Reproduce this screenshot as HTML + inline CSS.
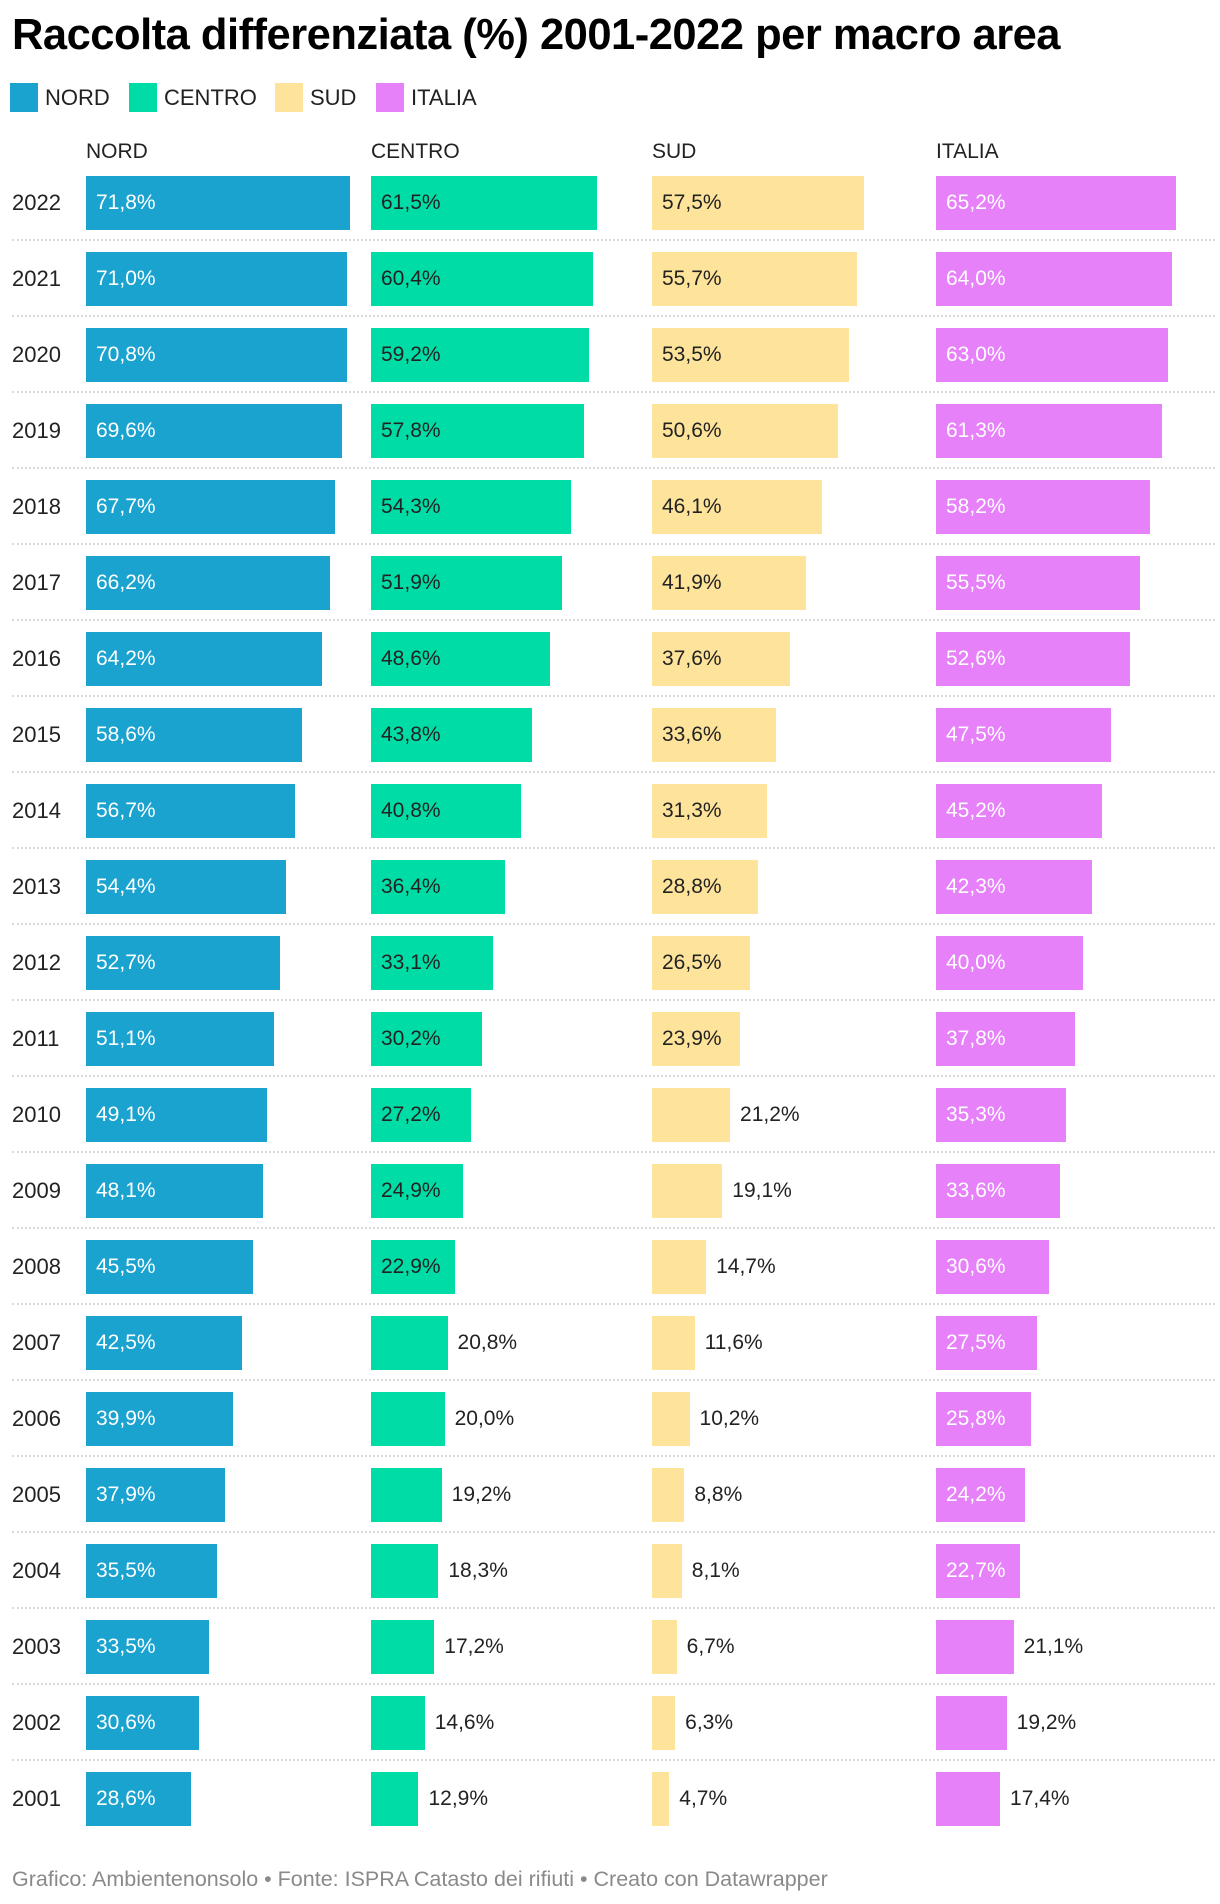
<!DOCTYPE html>
<html><head><meta charset="utf-8">
<style>
body{margin:0;background:#fff;font-family:"Liberation Sans",sans-serif;}
#root{position:relative;width:1220px;height:1904px;overflow:hidden;}
.title{position:absolute;left:12px;top:11px;font-size:43.5px;font-weight:bold;color:#000;letter-spacing:-0.5px;white-space:nowrap;}
.leg{position:absolute;top:83px;height:29px;font-size:22px;color:#222;line-height:29px;}
.leg i{display:inline-block;width:28px;height:29px;vertical-align:top;margin-right:7px;}
.hdr{position:absolute;top:140px;font-size:21px;color:#222;}
.yr{position:absolute;font-size:22px;color:#222;left:12px;}
.bar{position:absolute;height:54px;}
.val{position:absolute;font-size:21px;line-height:54px;white-space:nowrap;}
.sep{position:absolute;left:12px;width:1203px;border-top:2px dotted #d8d8d8;height:0;}
.foot{position:absolute;left:12px;top:1867px;font-size:21.5px;color:#8a8a8a;white-space:nowrap;}
</style></head><body>
<div id="root">
<div class="title">Raccolta differenziata (%) 2001-2022 per macro area</div>
<div class="leg" style="left:10px"><i style="background:#1ba3cf"></i>NORD</div>
<div class="leg" style="left:129px"><i style="background:#00dca6"></i>CENTRO</div>
<div class="leg" style="left:275px"><i style="background:#fee49b"></i>SUD</div>
<div class="leg" style="left:376px"><i style="background:#e781f9"></i>ITALIA</div>
<div class="hdr" style="left:86px">NORD</div>
<div class="hdr" style="left:371px">CENTRO</div>
<div class="hdr" style="left:652px">SUD</div>
<div class="hdr" style="left:936px">ITALIA</div>
<div class="foot">Grafico: Ambientenonsolo • Fonte: ISPRA Catasto dei rifiuti • Creato con Datawrapper</div>
</div>
<script>
const years=[2022,2021,2020,2019,2018,2017,2016,2015,2014,2013,2012,2011,2010,2009,2008,2007,2006,2005,2004,2003,2002,2001];
const nord=[71.8,71.0,70.8,69.6,67.7,66.2,64.2,58.6,56.7,54.4,52.7,51.1,49.1,48.1,45.5,42.5,39.9,37.9,35.5,33.5,30.6,28.6];
const centro=[61.5,60.4,59.2,57.8,54.3,51.9,48.6,43.8,40.8,36.4,33.1,30.2,27.2,24.9,22.9,20.8,20.0,19.2,18.3,17.2,14.6,12.9];
const sud=[57.5,55.7,53.5,50.6,46.1,41.9,37.6,33.6,31.3,28.8,26.5,23.9,21.2,19.1,14.7,11.6,10.2,8.8,8.1,6.7,6.3,4.7];
const italia=[65.2,64.0,63.0,61.3,58.2,55.5,52.6,47.5,45.2,42.3,40.0,37.8,35.3,33.6,30.6,27.5,25.8,24.2,22.7,21.1,19.2,17.4];
const root=document.getElementById('root');
const xs=v=>v*3.68;
const rowY=i=>176+i*76;
const cols=[
 {name:'nord',data:nord,x0:86,color:'#1ba3cf',txt:'#fff'},
 {name:'centro',data:centro,x0:371,color:'#00dca6',txt:'#222'},
 {name:'sud',data:sud,x0:652,color:'#fee49b',txt:'#222'},
 {name:'italia',data:italia,x0:936,color:'#e781f9',txt:'#fff'}];
years.forEach((yr,i)=>{
 const y=rowY(i);
 const yl=document.createElement('div');
 yl.className='yr';yl.style.top=(y+14)+'px';yl.textContent=yr;
 
 
 root.appendChild(yl);
 cols.forEach(c=>{
  const v=c.data[i];const w=xs(v);
  const b=document.createElement('div');
  b.className='bar';b.style.left=c.x0+'px';b.style.top=y+'px';b.style.width=w+'px';b.style.background=c.color;
  
  
  root.appendChild(b);
  const t=document.createElement('div');
  t.className='val';t.style.top=y+'px';
  t.textContent=v.toFixed(1).replace('.',',')+'%';
  if(v>=22.5){t.style.left=(c.x0+10)+'px';t.style.color=c.txt;}
  else{t.style.left=(c.x0+w+10)+'px';t.style.color='#222';}
  
  
  root.appendChild(t);
 });
 if(i<years.length-1){
  const s=document.createElement('div');
  s.className='sep';s.style.top=(y+63)+'px';
  
  
  root.appendChild(s);
 }
});
</script>
</body></html>
